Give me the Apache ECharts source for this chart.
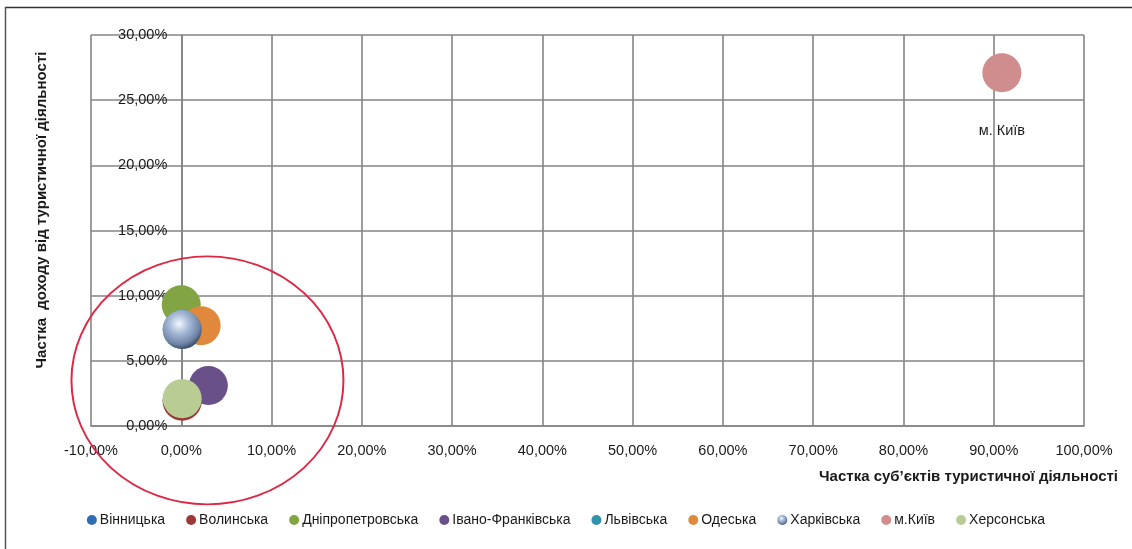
<!DOCTYPE html>
<html>
<head>
<meta charset="utf-8">
<script src="https://cdn.jsdelivr.net/npm/echarts@6/dist/echarts.min.js"></script>
<style>
html,body{margin:0;padding:0;background:#fff;}
#chart{width:1132px;height:549px;}
</style>
</head>
<body>
<div id="chart"></div>
<script>
const regions = ['Вінницька','Волинська','Дніпропетровська','Івано-Франківська','Львівська','Одеська','Харківська','м.Київ','Херсонська'];
const subjectShare = [0.1, 0.1, 0.0, 3.0, 0.1, 2.2, 0.1, 90.9, 0.1];   // x, %
const incomeShare  = [2.0, 1.9, 9.3, 3.1, 7.4, 7.7, 7.4, 27.1, 2.1];   // y, %
const xTicks = [-10, 0, 10, 20, 30, 40, 50, 60, 70, 80, 90, 100];
const yTicks = [0, 5, 10, 15, 20, 25, 30];
const xTitle = 'Частка суб’єктів туристичної діяльності';
const yTitle = 'Частка  доходу від туристичної діяльності';
const kyivLabel = 'м. Київ';

const colors = ['#2f6db3','#9c3836','#82a443','#6a5089','#2f93ae','#e0893c','#8aa0c2','#cf8e8d','#b9cc93'];
const FONT = 'Liberation Sans';
const GRID_COLOR = '#858585';
const fmt = v => v.toFixed(2).replace('.', ',') + '%';

const sphere = {
  type: 'radial', x: 0.42, y: 0.35, r: 0.7,
  colorStops: [
    {offset: 0, color: '#f4f8fd'},
    {offset: 0.35, color: '#a9bcd8'},
    {offset: 0.75, color: '#6f84a8'},
    {offset: 1, color: '#2f3b52'}
  ]
};

const series = regions.map((name, i) => ({
  name: name,
  type: 'scatter',
  symbolSize: 39,
  data: [[subjectShare[i], incomeShare[i]]],
  itemStyle: {
    color: name === 'Харківська' ? sphere : colors[i],
    opacity: 1
  },
  label: name === 'м.Київ' ? {
    show: true, position: 'bottom', distance: 31,
    formatter: kyivLabel, color: '#1a1a1a', fontFamily: FONT, fontSize: 14.5
  } : {show: false},
  emphasis: {disabled: true},
  z: 2
}));

const gridLeft = 91;
const chart = echarts.init(document.getElementById('chart'), null, {renderer: 'canvas'});

const titleGraphics = [
  {type: 'line', shape: {x1: 5, y1: 7.5, x2: 1132, y2: 7.5}, style: {stroke: '#333', lineWidth: 1.5}, silent: true},
  {type: 'line', shape: {x1: 5.5, y1: 7, x2: 5.5, y2: 549}, style: {stroke: '#555', lineWidth: 1.5}, silent: true},
  {type: 'text', right: 14, top: 469, style: {text: xTitle, font: 'bold 15px "' + FONT + '"', fill: '#1a1a1a'}, silent: true},
  {type: 'text', x: 42, y: 210, rotation: Math.PI / 2,
    style: {text: yTitle, font: 'bold 15px "' + FONT + '"', fill: '#1a1a1a', align: 'center', verticalAlign: 'middle'}, silent: true}
];

chart.setOption({
  animation: false,
  backgroundColor: '#fff',
  grid: {left: gridLeft, right: 48, top: 35, bottom: 123, containLabel: false},
  xAxis: {
    type: 'value', min: xTicks[0], max: xTicks[xTicks.length - 1], interval: 10,
    axisLine: {show: true, onZero: true, lineStyle: {color: GRID_COLOR, width: 1.6}},
    axisTick: {show: false},
    splitLine: {show: true, lineStyle: {color: GRID_COLOR, width: 1.6}},
    axisLabel: {formatter: fmt, color: '#1a1a1a', fontFamily: FONT, fontSize: 14.5, margin: 17}
  },
  yAxis: {
    type: 'value', min: yTicks[0], max: yTicks[yTicks.length - 1], interval: 5,
    axisLine: {show: true, onZero: true, lineStyle: {color: GRID_COLOR, width: 1.6}},
    axisTick: {show: false},
    splitLine: {show: true, lineStyle: {color: GRID_COLOR, width: 1.6}},
    axisLabel: {formatter: fmt, color: '#1a1a1a', fontFamily: FONT, fontSize: 14.5, margin: 14}
  },
  legend: {
    data: regions,
    icon: 'circle',
    bottom: 17, left: 'center',
    itemWidth: 10, itemHeight: 10, itemGap: 21,
    textStyle: {color: '#1a1a1a', fontFamily: FONT, fontSize: 14, padding: [0,0,0,-2]},
    selectedMode: false
  },
  series: series,
  graphic: titleGraphics
});

// y-axis labels sit beside the value-0 vertical axis (as in the original), not at the grid edge
const zeroX = chart.convertToPixel({gridIndex: 0}, [0, 0])[0];
chart.setOption({yAxis: {axisLabel: {margin: -(zeroX - gridLeft) + 14}}});

// annotation ellipse around the cluster of regions, anchored in data coordinates
const c = chart.convertToPixel({gridIndex: 0}, [2.9, 3.5]);
chart.setOption({
  graphic: titleGraphics.concat([
    {type: 'circle', x: c[0], y: c[1], scaleX: 136 / 124, scaleY: 1,
      shape: {cx: 0, cy: 0, r: 124},
      style: {fill: 'none', stroke: '#dc2844', lineWidth: 1.8, strokeNoScale: true}, z: 100, silent: true}
  ])
}, {replaceMerge: ['graphic']});
</script>
</body>
</html>
